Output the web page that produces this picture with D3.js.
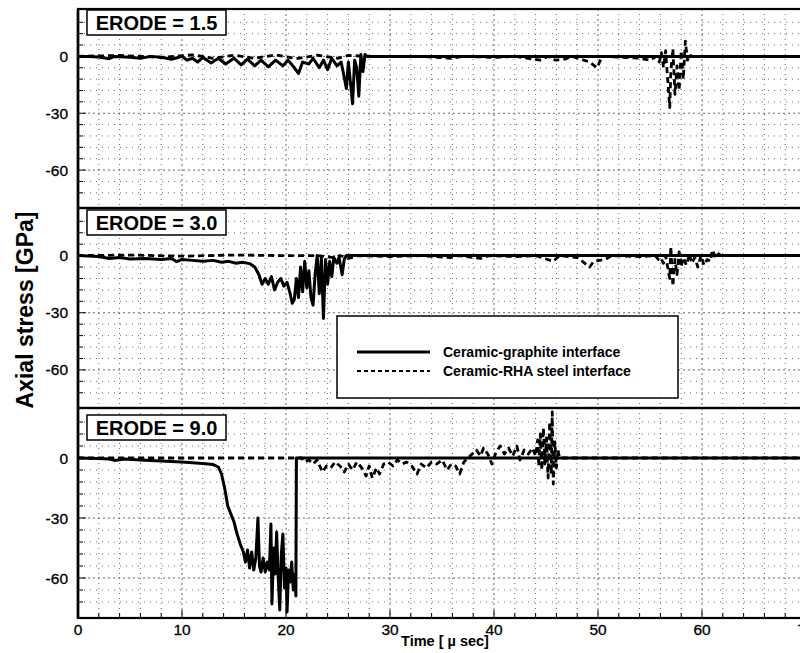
<!DOCTYPE html>
<html>
<head>
<meta charset="utf-8">
<script src="https://cdn.jsdelivr.net/npm/d3@7"></script>
<style>
  body { margin: 0; background: #fff; }
  svg { display: block; }
  text { font-family: "Liberation Sans", Arial, Helvetica, sans-serif; }
</style>
</head>
<body>
<svg id="chart" width="800" height="653"></svg>
<script>
// ---- data -------------------------------------------------------------
const timeTicks = [0, 10, 20, 30, 40, 50, 60, 70];
const stressTicks = [0, -30, -60];
const erodeLabels = ["ERODE = 1.5", "ERODE = 3.0", "ERODE = 9.0"];
const seriesNames = ["Ceramic-graphite interface", "Ceramic-RHA steel interface"];

// [time (µs), axial stress (GPa)]
const graphite15 = [
  [0,0],[1,0],[2,-0.3],[3,-1.2],[3.5,0],[5,-0.5],[6,-1],[7,0],[8,-0.5],[9,-1.5],
  [10,0],[10.5,-2],[11,-1],[11.5,-3],[12,-0.5],[12.8,-3.5],[13.5,-1],[14.2,-4],
  [15,-1],[15.7,-4.5],[16.3,-1.5],[17,-5],[17.6,-2],[18.3,-5.5],[19,-2],[19.7,-5],
  [20.2,-2],[20.8,-6],[21.2,-9],[21.6,-3],[22.2,-4],[22.6,-1],[23.2,-6],[23.6,-2],
  [24,-7],[24.4,-1],[24.9,-5],[25.3,-3],[25.6,-11],[25.8,-17],[26,-3],[26.2,-14],
  [26.4,-25],[26.6,-2],[26.8,-6],[27,-21],[27.2,1],[27.4,-8],[27.6,1],[27.8,0],
  [28.2,0],[70,0]
];
const steel15 = [
  [0,0],[4,0.5],[8,-0.5],[11,0.8],[13,-1],[15,0.6],[17,-1],[19,0.8],[21,-1.2],
  [23,0.6],[25,-1],[26,0.5],[28,0],[33,0],[35.8,-1],[37,0],[40,-0.5],[42,0],
  [44.4,-2],[45.2,0],[45.9,-2],[46.8,-1.5],[47.5,0],[49.2,-3],[49.9,-6],[50.4,0],
  [54,-1],[55,-2],[55.6,0],[55.9,-3],[56.1,2],[56.3,-6],[56.5,3],[56.7,-12],
  [56.9,-27],[57,-8],[57.2,4],[57.4,-20],[57.6,-5],[57.8,-18],[58,3],[58.2,-12],
  [58.4,8],[58.6,-2],[58.8,1],[59,0],[70,0]
];

const graphite30 = [
  [0,0],[2,-0.5],[3,-1.5],[4,-1],[5,-1.8],[6.5,-1.5],[8,-2],[9,-1.5],[9.5,-3.2],
  [10,-2],[11,-2.5],[12,-3],[13,-2.5],[13.8,-3.5],[14.5,-3],[15.2,-4],[15.8,-3.5],
  [16.5,-4.2],[17,-6],[17.4,-10],[17.7,-15],[18,-12],[18.3,-15],[18.6,-11],
  [18.9,-18],[19.2,-14],[19.5,-12],[19.8,-16],[20.1,-14],[20.4,-20],[20.6,-25],
  [20.8,-23],[21,-12],[21.2,-22],[21.4,-6],[21.6,-19],[21.8,-3],[22,-17],
  [22.2,-8],[22.4,-22],[22.6,-26],[22.8,-10],[23,0],[23.2,-20],[23.4,-1],
  [23.6,-33],[23.8,-2],[24,-15],[24.2,-3],[24.4,-11],[24.6,-1],[24.9,-4],
  [25.1,-1],[25.4,-10],[25.6,-2],[25.8,0],[70,0]
];
const steel30 = [
  [0,0],[5,0.3],[10,-0.3],[15,0.3],[20,0],[23,0],[24.5,-1],[25.2,0],[26,-1.5],
  [27,0],[30,-0.5],[33,0],[35.8,-1],[36.5,0],[38.7,-1.5],[39.5,0],[42,-0.5],
  [44,0],[45.7,-3],[46.3,0],[48,-1],[49.2,-6],[49.6,-3],[50.7,-2],[51.3,0],
  [54,-0.5],[55.5,0],[55.8,-2],[56,-1],[56.3,-4],[56.5,0],[56.7,-6],[56.9,-12],
  [57,5],[57.2,-16],[57.4,-2],[57.6,-10],[57.8,2],[58,-6],[58.2,-1],[58.5,-5],
  [58.8,1],[59,-4],[59.3,-1],[59.6,-6],[59.9,0],[60.2,-5],[60.5,-2],[60.8,-3],
  [61,3],[61.3,-1],[61.6,1],[61.8,0],[70,0]
];

const graphite90 = [
  [0,0],[2,-0.3],[3,-0.5],[3.5,-1.2],[4.5,-0.5],[6,-1],[8,-1.5],[10,-2],[12,-2.7],
  [13,-3.3],[13.5,-4.5],[13.8,-8],[14.1,-15],[14.4,-24],[14.7,-28],[15,-32],
  [15.3,-38],[15.6,-43],[15.9,-47],[16.1,-52],[16.3,-46],[16.5,-55],[16.7,-47],
  [16.9,-56],[17.1,-50],[17.3,-30],[17.45,-54],[17.6,-57],[17.8,-50],[18,-57],
  [18.2,-52],[18.4,-56],[18.55,-33],[18.65,-73],[18.8,-45],[18.95,-58],[19.1,-37],
  [19.25,-60],[19.4,-76],[19.55,-48],[19.7,-38],[19.85,-65],[20,-55],[20.1,-77],
  [20.25,-56],[20.4,-62],[20.55,-52],[20.7,-66],[20.85,-58],[20.95,-69],[21,0],
  [70,0]
];
const steel90 = [
  [0,0],[21.5,0],[21.8,-2],[22.2,-1],[22.6,-3],[23,-1],[23.5,-7],[23.9,-4],
  [24.3,-5],[24.7,-2],[25.2,-4],[25.6,-7],[26,-3],[26.4,-6],[26.8,-2],[27.3,-5],
  [27.7,-9],[28,-4],[28.3,-10],[28.7,-5],[29,-8],[29.4,-3],[29.8,-2],[30.3,-4],
  [30.7,-1],[31.2,-3],[31.6,-2],[32.1,-4],[32.6,-8],[33,-3],[33.5,-5],[34,-2],
  [34.5,-3],[35,-1],[35.5,-6],[35.9,-3],[36.3,-4],[36.7,-8],[37.1,-2],[37.5,0],
  [37.9,2],[38.3,4],[38.7,1],[39,5],[39.4,2],[39.8,-3],[40.2,3],[40.6,6],[41,2],
  [41.4,5],[41.8,1],[42.2,6],[42.5,-1],[42.9,4],[43.3,2],[43.7,5],[44,1],[44.2,9],
  [44.3,-4],[44.45,12],[44.6,-6],[44.75,15],[44.9,-3],[45.05,10],[45.2,-10],
  [45.35,18],[45.5,-8],[45.6,23],[45.7,-13],[45.85,8],[46,-5],[46.15,4],[46.3,0],
  [70,0]
];

// ---- layout -----------------------------------------------------------
const svg = d3.select("#chart");
const x = d3.scaleLinear().domain([0, 70]).range([78, 806]);

const panels = [
  { top: 9,   bottom: 208, label: erodeLabels[0], graphite: graphite15, steel: steel15, labelY: 10 },
  { top: 208, bottom: 408, label: erodeLabels[1], graphite: graphite30, steel: steel30, labelY: 210 },
  { top: 408, bottom: 618, label: erodeLabels[2], graphite: graphite90, steel: steel90, labelY: 415 }
];

const minorX = d3.range(2, 70, 2);
const minorY = d3.range(-72, 19, 6);

panels.forEach((p, i) => {
  const y = d3.scaleLinear().domain([-80, 25]).range([p.bottom, p.top]);
  const g = svg.append("g");

  // dotted grid
  g.append("g").selectAll("line").data(minorX).join("line")
    .attr("x1", d => x(d)).attr("x2", d => x(d))
    .attr("y1", p.top).attr("y2", p.bottom)
    .attr("stroke", "#444").attr("stroke-width", 0.8)
    .attr("stroke-dasharray", d => d % 10 === 0 ? "2,3" : "1,4");
  g.append("g").selectAll("line").data(minorY).join("line")
    .attr("x1", 78).attr("x2", 806)
    .attr("y1", d => y(d)).attr("y2", d => y(d))
    .attr("stroke", "#444").attr("stroke-width", 0.8)
    .attr("stroke-dasharray", d => d % 30 === 0 ? "2,3" : "1,5");

  // inward ticks on the left axis
  g.append("g").selectAll("line").data(minorY).join("line")
    .attr("x1", 78).attr("x2", d => d % 30 === 0 ? 86 : 83)
    .attr("y1", d => y(d)).attr("y2", d => y(d))
    .attr("stroke", "#000").attr("stroke-width", 1);

  // y tick labels
  g.append("g").selectAll("text").data(stressTicks).join("text")
    .attr("x", 68).attr("y", d => y(d)).attr("dy", "0.36em")
    .attr("text-anchor", "end").attr("font-size", 15.5).attr("fill", "#000")
    .attr("stroke", "#000").attr("stroke-width", 0.3)
    .text(d => d);

  const line = d3.line().x(d => x(d[0])).y(d => y(d[1]));

  // Ceramic-RHA steel interface (dashed)
  g.append("path").datum(p.steel).attr("d", line)
    .attr("fill", "none").attr("stroke", "#000").attr("stroke-width", 2.8)
    .attr("stroke-dasharray", "6,4").attr("stroke-linejoin", "round");
  // Ceramic-graphite interface (solid)
  g.append("path").datum(p.graphite).attr("d", line)
    .attr("fill", "none").attr("stroke", "#000").attr("stroke-width", 3)
    .attr("stroke-linejoin", "round");

  // panel frame
  g.append("rect").attr("x", 78).attr("y", p.top)
    .attr("width", 740).attr("height", p.bottom - p.top)
    .attr("fill", "none").attr("stroke", "#000").attr("stroke-width", 2.2);

  // ERODE label box
  const lab = g.append("g");
  lab.append("rect").attr("x", 87).attr("y", p.labelY).attr("width", 139).attr("height", 25)
    .attr("fill", "#fff").attr("stroke", "#000").attr("stroke-width", 1.5);
  lab.append("text").attr("x", 156.5).attr("y", p.labelY + 20)
    .attr("text-anchor", "middle").attr("font-size", 20).attr("font-weight", "bold")
    .text(p.label);

  if (i === panels.length - 1) {
    // bottom time axis ticks and labels
    g.append("g").selectAll("line").data(minorX).join("line")
      .attr("x1", d => x(d)).attr("x2", d => x(d))
      .attr("y1", p.bottom).attr("y2", d => d % 10 === 0 ? p.bottom - 8 : p.bottom - 5)
      .attr("stroke", "#000").attr("stroke-width", 1);
    g.append("g").selectAll("text").data(timeTicks).join("text")
      .attr("x", d => x(d)).attr("y", 635)
      .attr("text-anchor", "middle").attr("font-size", 15.5).attr("fill", "#000")
      .attr("stroke", "#000").attr("stroke-width", 0.3)
      .text(d => d);
  }
});

// left axis line
svg.append("line").attr("x1", 78).attr("x2", 78).attr("y1", 9).attr("y2", 618)
  .attr("stroke", "#000").attr("stroke-width", 2.6);

// axis titles
svg.append("text").attr("transform", "translate(33,310) rotate(-90)")
  .attr("text-anchor", "middle").attr("font-size", 23).attr("font-weight", "bold")
  .text("Axial stress [GPa]");
svg.append("text").attr("x", 445).attr("y", 646)
  .attr("text-anchor", "middle").attr("font-size", 14.5).attr("font-weight", "bold")
  .text("Time [ \u00B5 sec]");

// legend
const legend = svg.append("g");
legend.append("rect").attr("x", 337).attr("y", 316).attr("width", 341).attr("height", 82)
  .attr("fill", "#fff").attr("stroke", "#000").attr("stroke-width", 1.5);
const legendRows = [
  { name: seriesNames[0], dash: null, y: 352 },
  { name: seriesNames[1], dash: "4,3", y: 371 }
];
legendRows.forEach(r => {
  legend.append("line").attr("x1", 357).attr("x2", 430).attr("y1", r.y).attr("y2", r.y)
    .attr("stroke", "#000").attr("stroke-width", r.dash ? 2.2 : 2.8)
    .attr("stroke-dasharray", r.dash);
  legend.append("text").attr("x", 443).attr("y", r.y + 5)
    .attr("font-size", 14).attr("font-weight", "bold").text(r.name);
});
</script>
</body>
</html>
